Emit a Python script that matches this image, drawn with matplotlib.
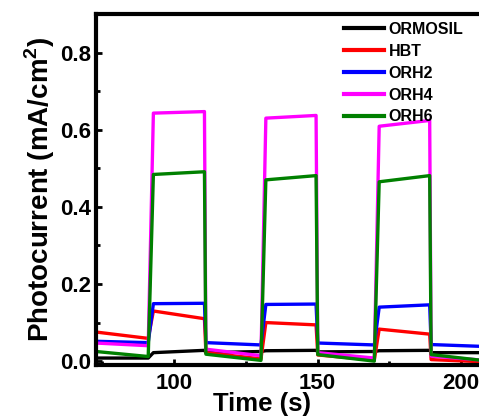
import matplotlib.pyplot as plt
from matplotlib.ticker import MultipleLocator

plt.rcParams['font.family'] = ['Liberation Sans', 'DejaVu Sans']
plt.rcParams['font.weight'] = 'bold'
plt.rcParams['mathtext.fontset'] = 'custom'
plt.rcParams['mathtext.rm'] = 'Liberation Sans:bold'
plt.rcParams['mathtext.bf'] = 'Liberation Sans:bold'

# time points (s): light on/off edges
t = [70, 91, 92.8, 110.6, 111.1, 130.3, 132, 149.5, 150.1, 169.8, 171.5, 189.1, 189.6, 212]

ormosil = [0.008, 0.008, 0.022, 0.028, 0.022, 0.025, 0.027, 0.028, 0.024, 0.025, 0.027, 0.028, 0.022, 0.022]
hbt = [0.078, 0.059, 0.130, 0.110, 0.022, 0.006, 0.100, 0.094, 0.016, 0.003, 0.083, 0.070, 0.004, -0.003]
orh2 = [0.052, 0.048, 0.149, 0.150, 0.048, 0.042, 0.147, 0.148, 0.047, 0.042, 0.140, 0.146, 0.043, 0.037]
orh4 = [0.048, 0.040, 0.643, 0.647, 0.031, 0.014, 0.630, 0.637, 0.022, 0.008, 0.609, 0.624, 0.013, 0.000]
orh6 = [0.027, 0.012, 0.484, 0.491, 0.018, 0.002, 0.470, 0.481, 0.017, 0.000, 0.465, 0.481, 0.017, -0.002]

names = ['ORMOSIL', 'HBT', 'ORH2', 'ORH4', 'ORH6']
colors = ['black', 'red', 'blue', 'magenta', 'green']
series = [ormosil, hbt, orh2, orh4, orh6]

fig = plt.figure(figsize=(4.79, 4.16), dpi=100)
ax = fig.add_axes([96/479, 51/416, 408/479, 351/416])

for y, c, n in zip(series, colors, names):
    ax.plot(t, y, color=c, lw=2.4, label=n)

ax.set_xlim(72.8, 215)
ax.set_ylim(-0.01, 0.9)
ax.xaxis.set_major_locator(MultipleLocator(50))
ax.xaxis.set_minor_locator(MultipleLocator(25))
ax.yaxis.set_major_locator(MultipleLocator(0.2))
ax.yaxis.set_minor_locator(MultipleLocator(0.1))
ax.tick_params(which='both', direction='in', width=2, top=False, right=False)
ax.tick_params(which='major', length=4.5)
ax.tick_params(which='minor', length=3)
ax.tick_params(axis='x', labelsize=16, pad=6)
ax.tick_params(axis='y', labelsize=16, pad=3.5)
for s in ax.spines.values():
    s.set_linewidth(3)
for lab in ax.get_xticklabels() + ax.get_yticklabels():
    lab.set_fontweight('bold')

ax.set_xlabel('Time (s)', fontsize=18.5, fontweight='bold', labelpad=-2, x=0.407)
ax.set_ylabel(r'Photocurrent (mA/cm$^{\mathbf{2}}$)', fontsize=20, fontweight='bold', labelpad=2)

leg = ax.legend(loc='upper left', bbox_to_anchor=(344/479, 1 - 22/416),
                bbox_transform=fig.transFigure, frameon=False, fontsize=11.5,
                handlelength=2.5, handletextpad=0.3, labelspacing=0.43,
                borderpad=0, borderaxespad=0)
for h in leg.get_lines():
    h.set_linewidth(3)
for tx in leg.get_texts():
    tx.set_fontweight('bold')

fig.savefig('out.png', dpi=100)
